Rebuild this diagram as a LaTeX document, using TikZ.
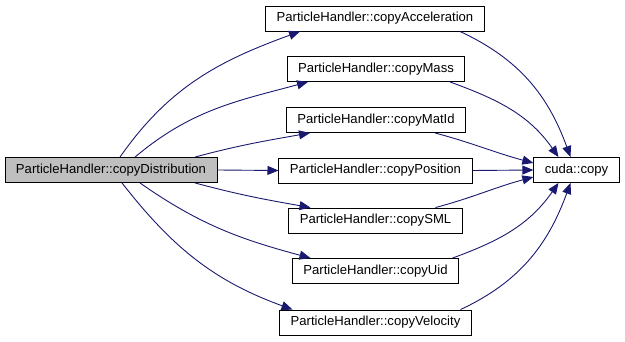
\documentclass[tikz,border=0pt]{standalone}
\usepackage{fontspec}
\setmainfont{Liberation Sans}
\usetikzlibrary{arrows.meta}

\definecolor{edgeblue}{HTML}{191970}
\definecolor{rootgray}{HTML}{BFBFBF}

\tikzset{
  fn/.style={draw=black, line width=0.9pt, fill=white, rectangle,
    inner xsep=11pt, inner ysep=0pt, minimum height=25pt,
    font=\fontsize{13.1}{15}\selectfont},
  root/.style={fn, fill=rootgray},
  call/.style={draw=edgeblue, line width=0.9pt,
    -{Triangle[length=11pt,width=9pt,fill=edgeblue]}},
}

\begin{document}
\begin{tikzpicture}[x=1pt,y=1pt]
\useasboundingbox (0,0) rectangle (625,341);

\node[root] (dist) at (111,171) {ParticleHandler::copyDistribution};

\node[fn] (acc)   at (375,322.5) {ParticleHandler::copyAcceleration};
\node[fn] (mass)  at (376,272)   {ParticleHandler::copyMass};
\node[fn] (matid) at (376,221)   {ParticleHandler::copyMatId};
\node[fn] (pos)   at (375.5,170.5) {ParticleHandler::copyPosition};
\node[fn] (sml)   at (375.5,120.5) {ParticleHandler::copySML};
\node[fn] (uid)   at (375.5,70)  {ParticleHandler::copyUid};
\node[fn] (vel)   at (375.5,18.5) {ParticleHandler::copyVelocity};

\node[fn] (cuda)  at (576.5,171) {cuda::copy};

% calls out of copyDistribution
\draw[call] ([xshift=9pt]dist.north) to[out=55,in=200] ([xshift=-75pt]acc.south);
\draw[call] ([xshift=24pt]dist.north) to[out=40,in=195] ([xshift=-68pt]mass.south);
\draw[call] ([xshift=84pt]dist.north) to[out=15,in=190] ([xshift=-66pt]matid.south);
\draw[call] (dist.east) -- (pos.west);
\draw[call] ([xshift=84pt]dist.south) to[out=-15,in=170] ([xshift=-65pt]sml.north);
\draw[call] ([xshift=29pt]dist.south) to[out=-35,in=165] ([xshift=-65pt]uid.north);
\draw[call] ([xshift=11pt]dist.south) to[out=-52,in=160] ([xshift=-83pt]vel.north);

% everything ends in cuda::copy
\draw[call] ([xshift=85pt]acc.south) to[out=-25,in=110] ([xshift=-6pt]cuda.north);
\draw[call] ([xshift=74pt]mass.south) to[out=-20,in=125] ([xshift=-18pt]cuda.north);
\draw[call] ([xshift=59pt]matid.south) to[out=-15,in=165] ([yshift=7pt]cuda.west);
\draw[call] (pos.east) -- (cuda.west);
\draw[call] ([xshift=60pt]sml.north) to[out=15,in=195] ([yshift=-7pt]cuda.west);
\draw[call] ([xshift=77pt]uid.north) to[out=20,in=235] ([xshift=-18pt]cuda.south);
\draw[call] ([xshift=85pt]vel.north) to[out=25,in=250] ([xshift=-6pt]cuda.south);
\end{tikzpicture}
\end{document}
